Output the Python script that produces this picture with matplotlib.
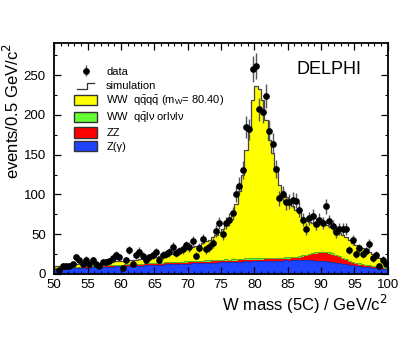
import numpy as np
import matplotlib
matplotlib.use("Agg")
import matplotlib.pyplot as plt
import matplotlib.patches as mpatches
from matplotlib.lines import Line2D
from matplotlib.legend_handler import HandlerBase
from matplotlib.ticker import MultipleLocator

plt.rcParams['font.family'] = ['Liberation Sans', 'DejaVu Sans']

# 0.5 GeV bins from 50 to 100
edges = np.arange(50, 100.01, 0.5)

# data (events per bin), first bin not visible
data = [np.nan, 5, 10, 10, 10, 12, 21, 18, 13, 18,
        12, 17, 13, 10, 15, 15, 16, 20, 24, 21,
        7, 17, 30, 13, 24, 28, 23, 18, 21, 24,
        27, 18, 24, 25, 27, 34, 26, 29, 31, 36,
        34, 41, 23, 33, 44, 31, 34, 39, 54, 64,
        50, 64, 68, 76, 101, 111, 131, 185, 182, 258,
        262, 207, 204, 224, 180, 164, 132, 95, 100, 90,
        91, 93, 92, 81, 68, 57, 70, 73, 63, 68,
        64, 85, 66, 60, 53, 57, 57, 57, 30, 43,
        25, 32, 25, 29, 38, 20, 24, 10, 18, 13]

# total simulation
sim_total = [10, 10.5, 10.5, 11, 11, 11.5, 12, 12, 12.5, 13,
             13, 13.5, 14, 14, 14.5, 15, 15, 15.5, 16, 16,
             16.5, 17, 17, 17.5, 18, 18.5, 19, 19.5, 20, 20.5,
             21, 22, 22.5, 23.5, 24.5, 25.5, 27, 28, 29.5, 31,
             32, 34, 35, 37, 39, 41, 43, 46, 49, 53,
             57, 62, 68, 76, 88, 104, 125, 156, 185, 219,
             237, 232, 219, 194, 169, 152, 130, 112, 104, 97,
             90, 85, 80, 76, 71, 67, 65, 64, 64, 63,
             63, 62, 60, 58, 55, 52, 49, 46, 43, 39,
             36, 34, 32, 30, 28, 25, 22, 20, 16, 12]

# background components
zgamma = [6.3, 6.6, 6.9, 6.8, 7.2, 7.3, 7.2, 7.6, 7.8, 7.7,
          8.0, 8.3, 8.2, 8.6, 8.5, 8.9, 9.1, 9.0, 9.4, 9.5,
          9.6, 9.9, 9.8, 10.2, 10.3, 10.5, 10.5, 10.9, 11.0, 11.2,
          11.3, 11.6, 11.5, 11.9, 12.0, 12.2, 12.3, 12.6, 12.5, 12.9,
          13.0, 13.2, 13.2, 13.5, 13.6, 13.9, 13.8, 14.2, 14.2, 14.5,
          14.5, 14.8, 14.7, 15.1, 15.0, 15.4, 15.3, 15.7, 15.6, 16.0,
          15.9, 16.2, 16.1, 16.4, 16.3, 16.6, 16.5, 16.8, 16.6, 16.9,
          16.8, 17.0, 16.9, 17.1, 17.0, 17.2, 17.0, 16.9, 16.7, 16.5,
          16.2, 15.9, 15.4, 15.0, 14.3, 13.7, 13.0, 12.4, 11.6, 11.0,
          10.4, 9.8, 9.3, 8.6, 8.2, 7.6, 7.1, 6.7, 6.1, 5.6]

zz = [0.6, 0.6, 0.7, 0.6, 0.7, 0.7, 0.8, 0.7, 0.8, 0.8,
      0.8, 0.9, 0.8, 0.9, 0.9, 0.9, 1.0, 0.9, 1.0, 1.0,
      1.0, 1.1, 1.0, 1.1, 1.1, 1.1, 1.2, 1.1, 1.2, 1.2,
      1.2, 1.3, 1.2, 1.3, 1.3, 1.3, 1.4, 1.3, 1.4, 1.4,
      1.4, 1.5, 1.4, 1.5, 1.5, 1.5, 1.6, 1.5, 1.6, 1.6,
      1.6, 1.7, 1.6, 1.7, 1.7, 1.7, 1.8, 1.7, 1.8, 1.8,
      1.8, 1.9, 1.8, 1.9, 1.9, 2.0, 1.9, 2.0, 2.0, 2.1,
      2.2, 2.4, 2.8, 3.4, 4.3, 5.4, 6.6, 7.9, 8.9, 9.7,
      10.1, 10.3, 10.0, 9.3, 8.3, 7.0, 5.7, 4.5, 3.5, 2.8,
      2.3, 2.0, 1.8, 1.6, 1.5, 1.4, 1.3, 1.2, 1.1, 1.0]

ww_qqlv = [0.7, 0.8, 0.7, 0.8, 0.8, 0.8, 0.9, 0.8, 0.9, 0.9,
           0.9, 1.0, 0.9, 1.0, 1.0, 1.0, 1.1, 1.0, 1.1, 1.1,
           1.1, 1.2, 1.1, 1.2, 1.2, 1.2, 1.3, 1.2, 1.3, 1.3,
           1.3, 1.4, 1.3, 1.4, 1.4, 1.4, 1.5, 1.4, 1.5, 1.5,
           1.5, 1.6, 1.5, 1.6, 1.6, 1.6, 1.7, 1.6, 1.7, 1.7,
           1.7, 1.8, 1.7, 1.8, 1.8, 1.9, 1.9, 2.0, 2.0, 2.1,
           2.1, 2.1, 2.0, 2.0, 1.9, 1.9, 1.9, 1.8, 1.9, 1.8,
           1.8, 1.9, 1.8, 1.8, 1.9, 1.8, 1.8, 1.9, 1.8, 1.8,
           1.8, 1.7, 1.8, 1.7, 1.7, 1.6, 1.7, 1.6, 1.6, 1.5,
           1.5, 1.5, 1.4, 1.4, 1.4, 1.3, 1.3, 1.3, 1.2, 1.2]

c_yellow = '#ffff00'
c_green = '#66ee22'
c_red = '#ff0000'
c_blue = '#1f44ff'


class StepHandler(HandlerBase):
    # little step symbol for the simulation entry
    def create_artists(self, legend, orig_handle, xdescent, ydescent,
                       width, height, fontsize, trans):
        x0 = -xdescent
        y0 = -ydescent
        xs = [x0 + 0.15 * width, x0 + 0.55 * width, x0 + 0.55 * width, x0 + 0.85 * width]
        ys = [y0 + 0.15 * height, y0 + 0.15 * height, y0 + 0.75 * height, y0 + 0.75 * height]
        l = Line2D(xs, ys, color='#333333', lw=0.9, transform=trans)
        return [l]


fig = plt.figure(figsize=(3.99, 3.39), dpi=100)
ax = fig.add_axes([0.136, 0.192, 0.836, 0.680])

l1 = np.array(zgamma)
l2 = l1 + np.array(zz)
l3 = l2 + np.array(ww_qqlv)
tot = np.array(sim_total)

ax.stairs(tot, edges, baseline=l3, fill=True, color=c_yellow, lw=0)
ax.stairs(l3, edges, baseline=l2, fill=True, color=c_green, lw=0)
ax.stairs(l2, edges, baseline=l1, fill=True, color=c_red, lw=0)
ax.stairs(l1, edges, baseline=0, fill=True, color=c_blue, lw=0)
ax.stairs(l3, edges, color='#5a9a20', lw=0.5)
ax.stairs(l1, edges, color='#1a2a99', lw=0.5)
ax.stairs(tot, edges, color='#444444', lw=0.9)

centers = 0.5 * (edges[:-1] + edges[1:])
d = np.array(data, dtype=float)
eb = ax.errorbar(centers, d, yerr=np.sqrt(d), fmt='o', color='black', ms=3.8,
                 ecolor='#555555', elinewidth=1.0, capsize=0, zorder=5)

ax.set_xlim(50, 100)
ax.set_ylim(0, 290)
ax.xaxis.set_major_locator(MultipleLocator(5))
ax.xaxis.set_minor_locator(MultipleLocator(1))
ax.yaxis.set_major_locator(MultipleLocator(50))
ax.yaxis.set_minor_locator(MultipleLocator(25))
ax.tick_params(which='both', direction='in', top=True, right=True, labelsize=9.5)
ax.tick_params(which='major', length=5, width=0.9)
ax.tick_params(which='minor', length=2.5, width=0.8)
ax.tick_params(axis='x', pad=4)
ax.tick_params(axis='y', pad=6)
for s in ax.spines.values():
    s.set_linewidth(1.3)

ax.set_xlabel('W mass (5C) / GeV/c$^2$', fontsize=12, loc='right', labelpad=1)
ax.set_ylabel('events/0.5 GeV/c$^2$', fontsize=12, loc='top', labelpad=1)

ax.text(0.726, 0.886, 'DELPHI', transform=ax.transAxes, fontsize=13,
        va='center', ha='left')

sim_handle = Line2D([], [], color='#333333')
handles = [eb, sim_handle,
           mpatches.Patch(facecolor=c_yellow, edgecolor='#333333', lw=1),
           mpatches.Patch(facecolor='#66ff33', edgecolor='#333333', lw=1),
           mpatches.Patch(facecolor=c_red, edgecolor='#333333', lw=1),
           mpatches.Patch(facecolor=c_blue, edgecolor='#333333', lw=1)]
labels = ['data', 'simulation',
          r'WW  q$\mathregular{\bar{q}}$q$\mathregular{\bar{q}}$ (m$_\mathregular{W}$= 80.40)',
          r'WW  q$\mathregular{\bar{q}}$lν orlνlν',
          'ZZ', 'Z(γ)']
ax.legend(handles, labels, loc='upper left', bbox_to_anchor=(0.059, 0.900),
          frameon=False, fontsize=8, borderpad=0, borderaxespad=0,
          handlelength=2.1, handleheight=1.05, handletextpad=0.8,
          labelspacing=0.24, handler_map={sim_handle: StepHandler()})

fig.savefig('out.png', dpi=100)
